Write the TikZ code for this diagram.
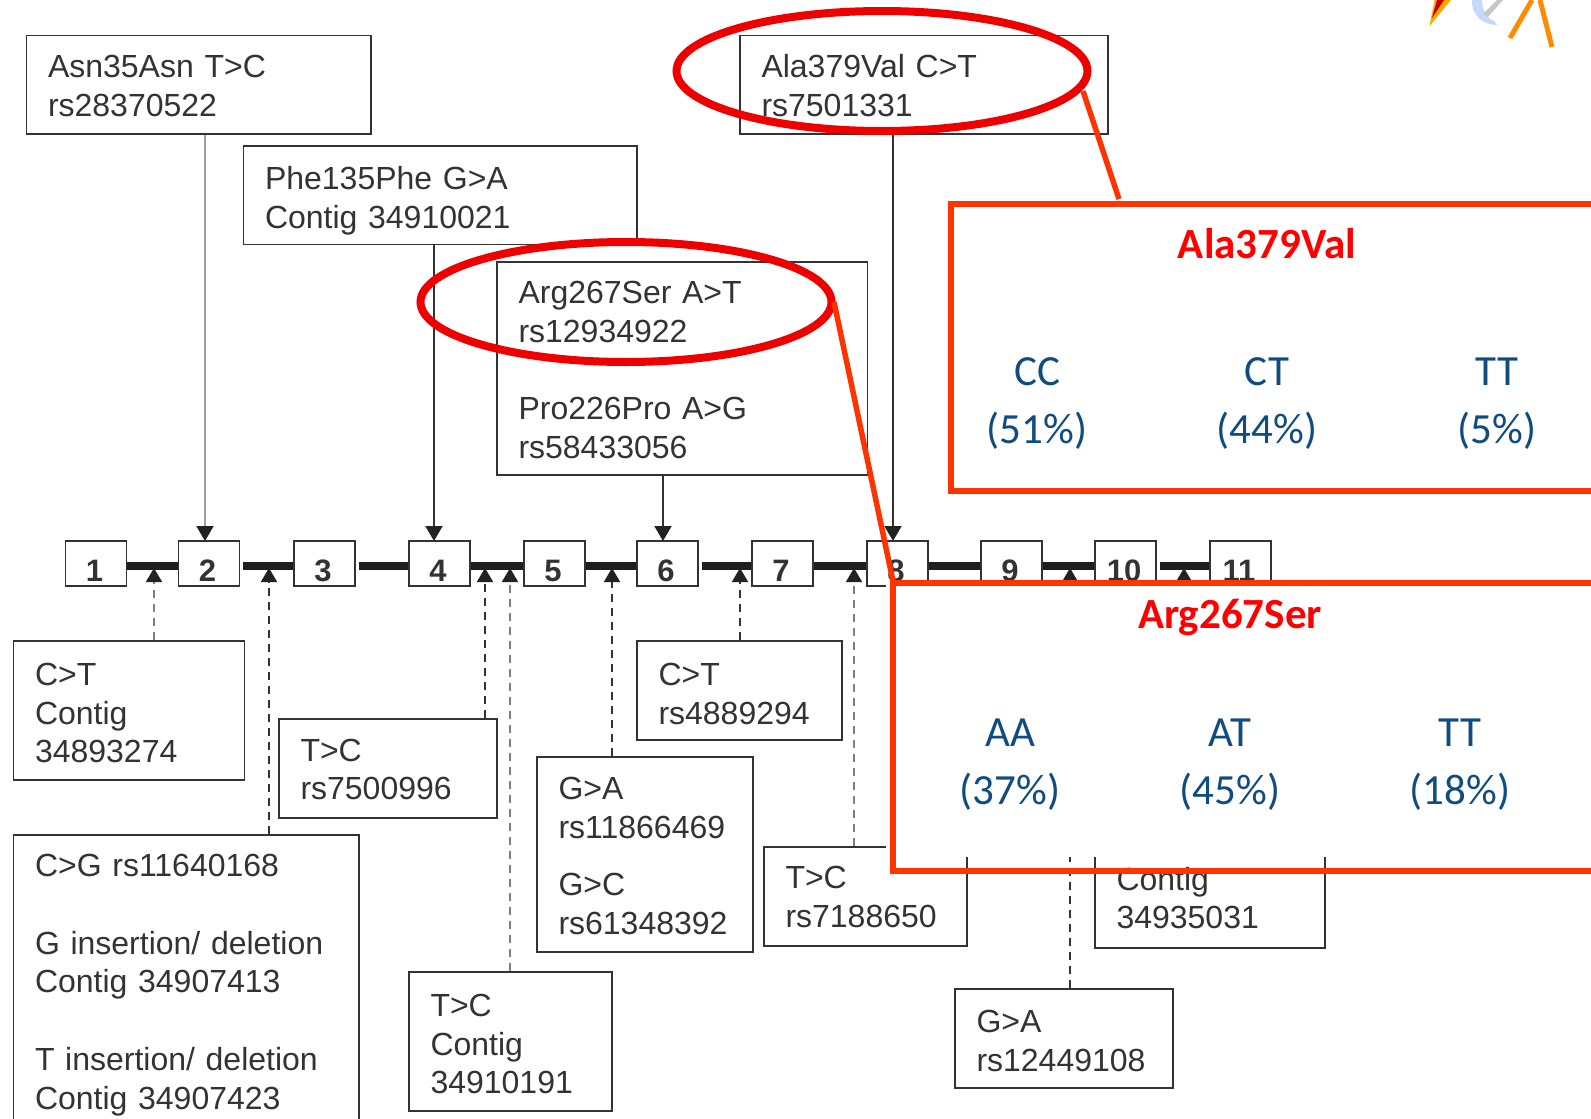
\documentclass[tikz,border=0pt]{standalone}
\usepackage{fontspec}
\setmainfont{Liberation Sans}
\newfontfamily\calib{Carlito}
\usetikzlibrary{arrows.meta,shapes.geometric}
\definecolor{ink}{HTML}{333333}
\definecolor{tipc}{HTML}{222222}
\definecolor{redline}{HTML}{FF3300}
\definecolor{redring}{HTML}{EE0000}
\definecolor{navy}{HTML}{0F4C81}
\definecolor{paleblue}{HTML}{C5D9F8}
\newcommand{\bx}[6]{%
  \node[lbox,minimum width={#4-#2},minimum height={#5-#3},text width={#4-#2-43}] (#1) at ({(#2+#4)/2},{(#3+#5)/2}) {#6};}
\newcommand{\dn}[1]{\rule{0pt}{\dimexpr 23.5pt+#1pt+#1pt\relax}}
\newcommand{\ex}[3]{%
  \node[exon,minimum width=61,minimum height=45] (ex#1) at (#2,563.5) {\smash{\raisebox{-18pt}{\hspace{-3pt}#3}}};}
\newcommand{\br}[3][]{\draw[bar,#1] ([yshift=-2.5pt]ex#2.east) -- ([yshift=-2.5pt]ex#3.west);}
\tikzset{
  x=1pt,y=-1pt,
  lbox/.style={draw=ink,line width=1.5pt,fill=white,inner sep=0pt,align=left,text=ink,
    font=\fontsize{32}{38.7}\selectfont},
  exon/.style={draw=ink,line width=1.5pt,fill=white,inner sep=0pt,text=ink,
    font=\fontsize{31}{38}\selectfont\bfseries},
  bar/.style={line width=8.5pt,draw=black!88},
  down/.style={line width=2pt,-{Triangle[length=15pt,width=17pt,color=tipc,fill=tipc]}},
  up/.style={line width=1.8pt,dash pattern=on 8pt off 6pt,-{Triangle[length=14pt,width=16pt,color=tipc,fill=tipc]}},
  ring/.style={ellipse,draw=redring,line width=8pt,inner sep=0pt,outer sep=0pt,minimum width=411,minimum height=120},
  redbox/.style={draw=redline,line width=6pt,inner sep=0pt,outer sep=0pt,fill=white},
  pull/.style={draw=redline,line width=5.5pt},
  rtitle/.style={text=red,font=\calib\fontsize{43}{46}\selectfont\bfseries},
  gt/.style={text=navy,font=\calib\fontsize{43}{58}\selectfont,align=center},
}
\begin{document}
\begin{tikzpicture}
\useasboundingbox (0,0) rectangle (1591,1119);
\clip (0,0) rectangle (1591,1119);
% decoration at the top right
\fill[orange!70!yellow] (1429.5,26) -- (1434.5,0) -- (1451,0) -- cycle;
\fill[red!75!black] (1432,18) -- (1437,0) -- (1444,0) -- cycle;
\fill[paleblue] (1472,0) .. controls (1471,14) and (1482,25) .. (1497,25) -- (1494,21) .. controls (1488,19) and (1482,12) .. (1482,0) -- cycle;
\fill[gray!45] (1483,14) -- (1497,0) -- (1503,0) -- (1488,17) -- cycle;
\draw[line width=5pt,draw=orange!90!yellow] (1510,38) -- (1532,0);
\draw[line width=5pt,draw=orange!90!yellow] (1552,47) -- (1540,0);
% exons
\ex{1}{96}{1}\ex{2}{209}{2}\ex{3}{324.5}{3}\ex{4}{439.5}{4}\ex{5}{554.5}{5}\ex{6}{667.5}{6}
\ex{7}{782.5}{7}\ex{8}{897.5}{8}\ex{9}{1011.5}{9}\ex{10}{1125.5}{10}\ex{11}{1240.5}{11}
\br{1}{2}
\br[shorten <=3pt]{2}{3}
\br[shorten <=3pt]{3}{4}
\br{4}{5}
\br{5}{6}
\br[shorten <=3pt]{6}{7}
\br{7}{8}
\br{8}{9}
\br{9}{10}
\br[shorten <=3pt]{10}{11}
% upper boxes
\bx{asn}{26.5}{35.5}{371}{134}{\dn{1}Asn35Asn T>C\\rs28370522}
\bx{phe}{243.5}{146}{637}{244.5}{\dn{5}Phe135Phe G>A\\Contig 34910021}
\bx{arg}{497}{262}{867.5}{475}{\dn{1}Arg267Ser A>T\\rs12934922\\[38.7pt]Pro226Pro A>G\\rs58433056}
\bx{ala}{740}{35.5}{1108}{134}{\dn{1}Ala379Val C>T\\rs7501331}
% lower boxes
\bx{ct1}{13.5}{641}{244.5}{780}{\dn{2}C>T\\Contig\\34893274}
\bx{cg}{13.5}{835}{359}{1126}{\dn{4}C>G rs11640168\\[38.7pt]G insertion/ deletion\\Contig 34907413\\[38.7pt]T insertion/ deletion\\Contig 34907423}
\bx{tc1}{279}{719}{497}{818}{\dn{0.5}T>C\\rs7500996}
\bx{ga1}{537}{757}{753}{952}{\dn{1}G>A\\rs11866469\\[19pt]G>C\\rs61348392}
\bx{ct2}{637}{641}{842}{740}{\dn{3}C>T\\rs4889294}
\bx{tc2}{764}{847}{967}{946}{\dn{0}T>C\\rs7188650}
\bx{tc3}{409}{972}{612}{1111}{\dn{2}T>C\\Contig\\34910191}
\bx{tc4}{1095}{809}{1325}{948}{\dn{0}\mbox{}\\Contig\\34935031}
\bx{ga2}{955}{989}{1173}{1088}{\dn{2}G>A\\rs12449108}
% arrow tips
\coordinate (d2) at (205,541);
\coordinate (d4) at (434,541);
\coordinate (d6) at (663,541);
\coordinate (d8) at (893,541);
\coordinate (u1) at (154,568);
\coordinate (u2) at (269,568);
\coordinate (u3) at (485,568);
\coordinate (u4) at (510,568);
\coordinate (u5) at (612,568);
\coordinate (u6) at (740,568);
\coordinate (u7) at (854,568);
\coordinate (u8) at (1070,568);
\coordinate (u9) at (1184,568);
% connectors
\draw[down,draw=gray!75] (asn.south -| d2) -- (d2);
\draw[down,draw=ink] (phe.south -| d4) -- (d4);
\draw[down,draw=ink] (arg.south -| d6) -- (d6);
\draw[down,draw=ink] (ala.south -| d8) -- (d8);
\draw[up,draw=gray] (ct1.north -| u1) -- (u1);
\draw[up,draw=ink] (cg.north -| u2) -- (u2);
\draw[up,draw=ink] (tc1.north -| u3) -- (u3);
\draw[up,draw=gray] (tc3.north -| u4) -- (u4);
\draw[up,draw=ink] (ga1.north -| u5) -- (u5);
\draw[up,draw=ink] (ct2.north -| u6) -- (u6);
\draw[up,draw=gray] (tc2.north -| u7) -- (u7);
\draw[up,draw=ink] (ga2.north -| u8) -- (u8);
\draw[up,draw=ink] (tc4.north -| u9) -- (u9);
% white cover of the lower panel
\fill[white] (886,580) rectangle (1600,857);
% panels
\node[redbox,fill=white,minimum width=660,minimum height=287,anchor=north west] (alabox) at (951,204) {};
\node[redbox,fill=none,minimum width=720,minimum height=287.5,anchor=north west] (argbox) at (893,583) {};
\node[rtitle] (t1) at (1267,244) {Ala379Val};
\node[gt] (g1) at (1037,404) {CC\\(51\%)};
\node[gt] (g2) at (1267,404) {CT\\(44\%)};
\node[gt] (g3) at (1497,404) {TT\\(5\%)};
\node[rtitle] (t2) at (1230,617) {Arg267Ser};
\node[gt] (g4) at (1010,764.5) {AA\\(37\%)};
\node[gt] (g5) at (1230,764.5) {AT\\(45\%)};
\node[gt] (g6) at (1460,764.5) {TT\\(18\%)};
% rings and pointers
\node[ring] (r1) at (882,71) {};
\node[ring] (r2) at (626,302) {};
\coordinate (p1) at (1083,91);
\coordinate (p2) at (1119,199);
\coordinate (p3) at (834,302);
\coordinate (p4) at (893,581);
\draw[pull] (p1) -- (p2);
\draw[pull] (p3) -- (p4);
\end{tikzpicture}
\end{document}
